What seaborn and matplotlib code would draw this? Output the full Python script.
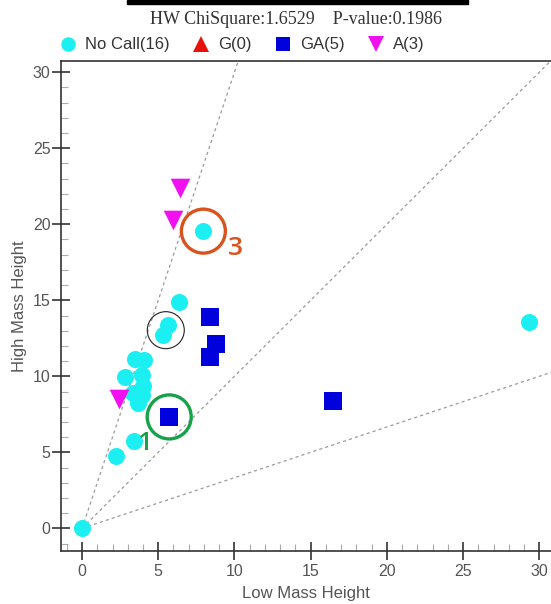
import numpy as np
import pandas as pd
import matplotlib
matplotlib.use("Agg")
import matplotlib.pyplot as plt
from matplotlib.lines import Line2D
from matplotlib.patches import Rectangle
import seaborn as sns

# Cluster data: low / high mass peak heights per sample
nocall_low = [0.0, 2.21, 3.41, 6.39, 5.66, 5.33, 7.96, 29.33,
              3.48, 4.07, 2.82, 3.92, 3.98, 3.33, 3.92, 3.69]
nocall_high = [0.0, 4.76, 5.76, 14.9, 13.37, 12.7, 19.55, 13.55,
               11.16, 11.07, 9.93, 10.09, 9.36, 8.88, 8.77, 8.26]
ga_low = [5.72, 8.42, 8.77, 8.42, 16.45]
ga_high = [7.33, 13.92, 12.1, 11.29, 8.39]
a_low = [6.43, 5.99, 2.45]
a_high = [22.4, 20.3, 8.5]
g_low = []
g_high = []

genotypes = ["No Call", "G", "GA", "A"]
colors = {"No Call": "#1CEFF1", "G": "#E8120C", "GA": "#0000DC", "A": "#F010F0"}
markers = {"No Call": "o", "G": "^", "GA": "s", "A": "v"}
sizes = {"No Call": 150, "G": 190, "GA": 160, "A": 200}

# boundary ratio lines through origin
ratio_slopes = [3.0, 1.0, 1.0 / 3.0]

df = pd.concat([
    pd.DataFrame({"low": nocall_low, "high": nocall_high, "call": "No Call"}),
    pd.DataFrame({"low": ga_low, "high": ga_high, "call": "GA"}),
    pd.DataFrame({"low": a_low, "high": a_high, "call": "A"}),
], ignore_index=True)
counts = {"No Call": len(nocall_low), "G": len(g_low), "GA": len(ga_low), "A": len(a_low)}

sns.set_style("white")
plt.rcParams["font.family"] = ["Liberation Sans", "DejaVu Sans"]

W, H = 551, 604
fig = plt.figure(figsize=(W / 100, H / 100), dpi=100)
ax = fig.add_axes([61 / W, 1 - 551 / H, 1 - 61 / W, (551 - 60.7) / H])

xlim = (-1.38, 30.77)
ylim = (-1.49, 30.76)

for s in ratio_slopes:
    ax.plot([0, 40], [0, 40 * s], ls=(0, (2.5, 2.5)), color="#9A9A9A", lw=0.9, zorder=1)

for g in ["No Call", "GA", "A"]:
    sub = df[df["call"] == g]
    sns.scatterplot(data=sub, x="low", y="high", marker=markers[g], color=colors[g],
                    s=sizes[g], linewidth=0, ax=ax, zorder=3, legend=False)

# highlighted samples
ring_px = 44 * 0.72
ax.scatter([ga_low[0]], [ga_high[0]], s=ring_px ** 2, facecolors="none",
           edgecolors="#17A24A", linewidths=2.4, zorder=4)
ax.scatter([nocall_low[6]], [nocall_high[6]], s=ring_px ** 2, facecolors="none",
           edgecolors="#D8531E", linewidths=2.4, zorder=4)
ax.scatter([np.mean(nocall_low[4:6])], [np.mean(nocall_high[4:6])], s=(37 * 0.72) ** 2,
           facecolors="none", edgecolors="#222222", linewidths=0.8, zorder=4)
ax.annotate("1", (ga_low[0], ga_high[0]), xytext=(-17.5, -19.5), textcoords="offset points",
            ha="center", va="center", fontsize=19, color="#17A24A",
            family=["Open Sans", "DejaVu Sans"], fontweight="semibold")
ax.annotate("3", (nocall_low[6], nocall_high[6]), xytext=(23.4, -12.3), textcoords="offset points",
            ha="center", va="center", fontsize=19, color="#D8531E",
            family=["Open Sans", "DejaVu Sans"], fontweight="semibold")

ax.set_xlim(*xlim)
ax.set_ylim(*ylim)
ax.set_xticks(np.arange(0, 31, 5))
ax.set_yticks(np.arange(0, 31, 5))
ax.set_xticks(np.arange(-1, 31, 1), minor=True)
ax.set_yticks(np.arange(-1, 31, 1), minor=True)
ax.tick_params(which="both", bottom=True, left=True, top=False, right=False)
ax.tick_params(which="major", direction="inout", length=13, width=1.1, color="#222222",
               labelsize=11.5, labelcolor="#555555")
ax.tick_params(which="minor", direction="in", length=5, width=0.8, color="#AAAAAA")
ax.tick_params(axis="x", which="major", pad=3)
ax.tick_params(axis="y", which="major", pad=1)
for side in ["left", "bottom", "top"]:
    ax.spines[side].set_color("#333333")
    ax.spines[side].set_linewidth(1.2)
ax.spines["right"].set_visible(False)
ax.set_xlabel("Low Mass Height", fontsize=12, color="#555555", labelpad=5)
ax.set_ylabel("High Mass Height", fontsize=12, color="#555555", labelpad=4)

handles = [Line2D([], [], ls="none", marker=markers[g], color=colors[g],
                  markersize=np.sqrt(sizes[g]) * 0.85, markeredgewidth=0) for g in genotypes]
labels = [f"{g}({counts[g]})" for g in genotypes]
fig.legend(handles, labels, loc="center left", bbox_to_anchor=(45 / W, 1 - 45 / H),
           ncol=4, frameon=False, fontsize=12, handlelength=1.0, handletextpad=0.5,
           columnspacing=1.4, labelcolor="#333333")

fig.text(296 / W, 1 - 19 / H, "HW ChiSquare:1.6529    P-value:0.1986", ha="center", va="center",
         fontsize=13, color="#333333", family=["Liberation Serif", "DejaVu Serif"])
fig.patches.append(Rectangle((127 / W, 1 - 3.5 / H), (468 - 127) / W, 3.5 / H,
                             transform=fig.transFigure, color="black", zorder=5))

fig.savefig("out.png", dpi=100)
